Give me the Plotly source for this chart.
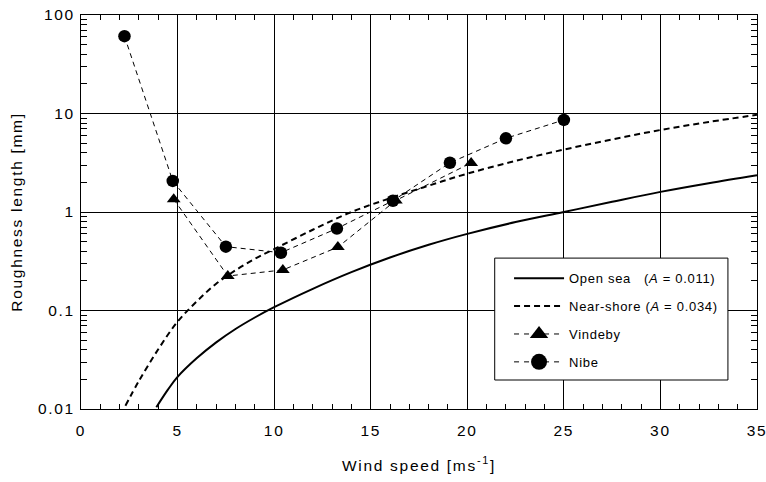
import plotly.graph_objects as go

# Reference curves
open_sea_speed = [3.9, 4.5, 5, 6, 7, 8, 9, 10, 12, 14, 16, 18, 20, 22.5, 25, 27.5, 30, 32.5, 35]
open_sea_z0 = [0.0104, 0.0157, 0.0212, 0.0329, 0.0475, 0.0649, 0.0849, 0.108, 0.166, 0.245, 0.345,
               0.465, 0.60, 0.79, 1.0, 1.27, 1.60, 1.96, 2.36]

near_shore_speed = [2.3, 3, 4, 5, 6, 7, 8, 9, 10, 12, 14, 16, 18, 20, 22.5, 25, 27.5, 30, 32.5, 35]
near_shore_z0 = [0.0108, 0.0193, 0.0404, 0.077, 0.124, 0.187, 0.256, 0.335, 0.42, 0.66, 1.0, 1.38,
                 1.85, 2.45, 3.3, 4.3, 5.45, 6.8, 8.2, 9.7]

# Measurements
vindeby_speed = [4.8, 7.6, 10.45, 13.3, 16.3, 20.2]
vindeby_z0 = [1.35, 0.224, 0.258, 0.44, 1.31, 3.15]

nibe_speed = [2.25, 4.75, 7.5, 10.35, 13.25, 16.15, 19.1, 22.0, 25.0]
nibe_z0 = [61, 2.07, 0.445, 0.386, 0.68, 1.30, 3.16, 5.6, 8.6]

x_ticks = [0, 5, 10, 15, 20, 25, 30, 35]
y_tickvals = [0.01, 0.1, 1, 10, 100]
y_ticktext = ["0.01", "0.1", "1", "10", "100"]

NB = "\u00a0"
legend_names = ["Open sea" + NB * 3 + "(<i>A</i> = 0.011)", "Near-shore (<i>A</i> = 0.034)",
                "Vindeby", "Nibe"]

FONT = "Liberation Sans, Arial, sans-serif"

fig = go.Figure()

fig.add_trace(go.Scatter(x=open_sea_speed, y=open_sea_z0, mode="lines",
                         line=dict(color="black", width=2, shape="spline"),
                         name=legend_names[0], legendgroup="a"))
fig.add_trace(go.Scatter(x=near_shore_speed, y=near_shore_z0, mode="lines",
                         line=dict(color="black", width=2, dash="6px,4px", shape="spline"),
                         name=legend_names[1], legendgroup="b"))
fig.add_trace(go.Scatter(x=vindeby_speed, y=vindeby_z0, mode="lines+markers",
                         line=dict(color="black", width=1, dash="5px,4px"),
                         marker=dict(symbol="triangle-up", size=12, color="black"),
                         showlegend=False))
fig.add_trace(go.Scatter(x=nibe_speed, y=nibe_z0, mode="lines+markers",
                         line=dict(color="black", width=1, dash="5px,4px"),
                         marker=dict(symbol="circle", size=12.5, color="black"),
                         showlegend=False))
# legend-only entries with larger markers
fig.add_trace(go.Scatter(x=[None], y=[None], mode="lines+markers",
                         line=dict(color="black", width=1, dash="5px,5px"),
                         marker=dict(symbol="triangle-up", size=16, color="black"),
                         name=legend_names[2], legendgroup="c"))
fig.add_trace(go.Scatter(x=[None], y=[None], mode="lines+markers",
                         line=dict(color="black", width=1, dash="5px,5px"),
                         marker=dict(symbol="circle", size=16, color="black"),
                         name=legend_names[3], legendgroup="d"))

axis_common = dict(
    showline=True, linecolor="black", linewidth=1, mirror="allticks",
    ticks="inside", tickcolor="black", tickwidth=1,
    showgrid=True, gridcolor="black", gridwidth=1,
    zeroline=False, automargin=False,
    tickfont=dict(family=FONT, size=15.5, color="black"),
)

fig.update_xaxes(**axis_common, range=[0, 35], tickvals=x_ticks, ticklen=8,
                 ticklabelstandoff=7,
                 minor=dict(dtick=1, ticks="inside", ticklen=5, tickcolor="black", showgrid=False),
                 title=dict(text="Wind speed [ms<sup>-1</sup>]",
                            font=dict(family=FONT, size=15.5, color="black"), standoff=22))
fig.update_yaxes(**axis_common, type="log", range=[-2, 2], tickvals=y_tickvals, ticktext=y_ticktext,
                 ticklen=9, ticklabelstandoff=2,
                 minor=dict(ticks="inside", ticklen=6, tickcolor="black", showgrid=False,
                            tickvals=[m * 10 ** e for e in (-2, -1, 0, 1) for m in range(2, 10)]),
                 title=dict(text="Roughness length [mm]",
                            font=dict(family=FONT, size=15.5, color="black"), standoff=18))

# opaque legend frame
fig.add_shape(type="rect", xref="paper", yref="paper", x0=0.612, x1=0.957, y0=0.0736, y1=0.383,
              line=dict(color="black", width=1), fillcolor="white", layer="above")

fig.update_layout(
    width=766, height=482,
    margin=dict(l=81, r=9, t=15, b=73),
    paper_bgcolor="white", plot_bgcolor="white",
    font=dict(family=FONT, size=13, color="black"),
    legend=dict(x=0.6332, y=0.370, xanchor="left", yanchor="top",
                bgcolor="rgba(0,0,0,0)", borderwidth=0,
                traceorder="grouped", tracegroupgap=8,
                font=dict(family=FONT, size=13, color="black"),
                itemwidth=50),
)

post = """
document.body.style.margin = '0';
var gd = document.getElementById('{plot_id}');
gd.querySelectorAll('.xtick text, .ytick text, .g-xtitle text, .g-ytitle text').forEach(function(t){ t.style.letterSpacing = '1.7px'; });
gd.querySelectorAll('.legendtext').forEach(function(t){ t.style.letterSpacing = '0.7px'; });
gd.querySelectorAll('.legend [clip-path]').forEach(function(e){ e.removeAttribute('clip-path'); });
"""

fig.write_html("out.html", post_script=post, config={"displayModeBar": False})
